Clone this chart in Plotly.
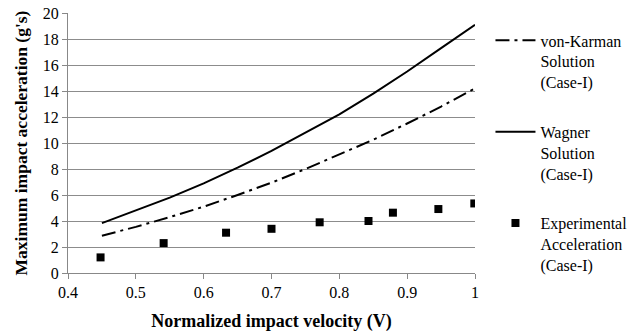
import plotly.graph_objects as go

# Data
v_curve = [0.45, 0.5, 0.55, 0.6, 0.65, 0.7, 0.75, 0.8, 0.85, 0.9, 0.95, 1.0]
von_karman = [2.87, 3.55, 4.3, 5.1, 6.0, 6.95, 8.0, 9.1, 10.25, 11.5, 12.8, 14.2]
wagner = [3.84, 4.8, 5.8, 6.9, 8.1, 9.4, 10.8, 12.2, 13.8, 15.5, 17.3, 19.1]
v_exp = [0.448, 0.541, 0.633, 0.70, 0.771, 0.843, 0.879, 0.946, 0.999]
acc_exp = [1.2, 2.3, 3.1, 3.4, 3.9, 4.0, 4.64, 4.92, 5.35]

names = ["von-Karman<br>Solution<br>(Case-I)",
         "Wagner<br>Solution<br>(Case-I)",
         "Experimental<br>Acceleration<br>(Case-I)"]

x_ticks = [0.4, 0.5, 0.6, 0.7, 0.8, 0.9, 1.0]
x_tick_text = ["0.4", "0.5", "0.6", "0.7", "0.8", "0.9", "1"]
y_ticks = [0, 2, 4, 6, 8, 10, 12, 14, 16, 18, 20]

FONT = "Liberation Serif, Times New Roman, serif"

fig = go.Figure()
fig.add_trace(go.Scatter(x=v_curve, y=von_karman, mode="lines", name=names[0],
                         legendgroup="a",
                         line=dict(color="black", width=2, dash="14px,5px,3px,5px")))
fig.add_trace(go.Scatter(x=v_curve, y=wagner, mode="lines", name=names[1],
                         legendgroup="b",
                         line=dict(color="black", width=2)))
fig.add_trace(go.Scatter(x=v_exp, y=acc_exp, mode="markers", name=names[2],
                         legendgroup="c",
                         marker=dict(symbol="square", color="black", size=8)))

fig.update_layout(
    width=630, height=333,
    margin=dict(l=68, r=155, t=13, b=60, autoexpand=False),
    paper_bgcolor="white", plot_bgcolor="white",
    font=dict(family=FONT, color="black", size=16),
    showlegend=True,
    legend=dict(x=1.038, y=0.96, xanchor="left", yanchor="top",
                font=dict(family=FONT, size=16, color="black"),
                valign="top", tracegroupgap=26, itemwidth=40,
                bgcolor="rgba(0,0,0,0)"),
    xaxis=dict(range=[0.4, 1.0], tickvals=x_ticks, ticktext=x_tick_text,
               showgrid=False, zeroline=False,
               showline=True, linecolor="#888888", linewidth=1,
               ticks="outside", ticklen=5, tickcolor="#888888",
               tickfont=dict(family=FONT, size=16),
               title=dict(text="<b>Normalized impact velocity (V)</b>",
                          font=dict(family=FONT, size=18), standoff=14)),
    yaxis=dict(range=[0, 20], tickvals=y_ticks,
               showgrid=True, gridcolor="#8c8c8c", gridwidth=1,
               zeroline=False,
               showline=True, linecolor="#888888", linewidth=1,
               ticks="outside", ticklen=5, tickcolor="#888888",
               tickfont=dict(family=FONT, size=16),
               title=dict(text="<b>Maximum impact acceleration (g's)</b>",
                          font=dict(family=FONT, size=17.5), standoff=10)),
)

fig.write_html("out.html", post_script="document.body.style.margin='0';",
               config={"displayModeBar": False})
